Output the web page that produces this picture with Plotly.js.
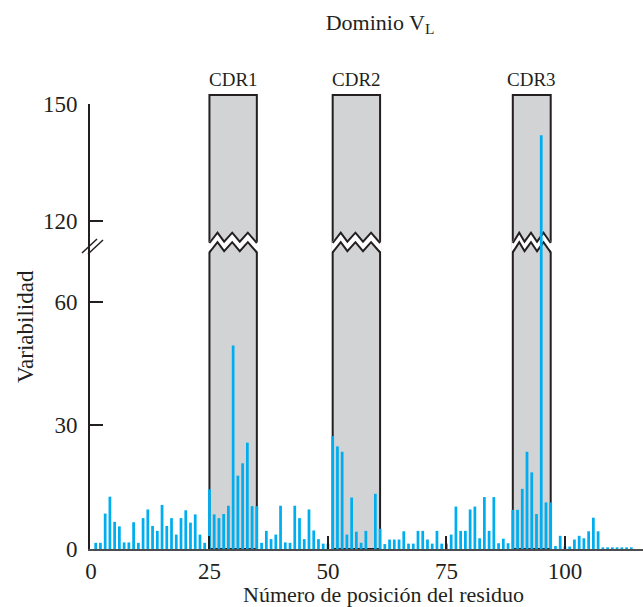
<!DOCTYPE html>
<html><head><meta charset="utf-8">
<script src="https://cdn.plot.ly/plotly-3.0.1.min.js"></script>
<style>html,body{margin:0;padding:0;background:#fff}#chart{width:643px;height:607px}</style>
</head><body><div id="chart"></div>
<script>
// Residue positions (V_L domain)
const residuePositions = [1,2,3,4,5,6,7,8,9,10,11,12,13,14,15,16,17,18,19,20,
 21,22,23,24,25,26,27,28,29,30,31,32,33,34,35,36,37,38,39,40,
 41,42,43,44,45,46,47,48,49,50,51,52,53,54,55,56,57,58,59,60,
 61,62,63,64,65,66,67,68,69,70,71,72,73,74,75,76,77,78,79,80,
 81,82,83,84,85,86,87,88,89,90,91,92,93,94,95,96,97,98,99,100,
 101,102,103,104,105,106,107,108,109,110,111,112,113,114];
// Variability (Wu-Kabat)
const variability = [1.5,1.5,8.6,12.7,6.6,5.5,1.6,1.6,6.5,1.5,
 7.5,9.6,5.6,4.4,10.7,5.6,7.5,3.5,7.5,9.4,
 6.4,8.4,3.5,1.5,14.5,8.4,7.5,8.5,10.5,49.4,
 17.8,20.8,25.8,10.4,10.4,1.5,4.4,2.4,3.5,10.5,
 1.6,1.5,10.5,7.5,2.4,9.6,4.5,2.4,1.3,1.3,
 27.4,24.9,23.6,3.5,12.5,4.2,1.5,4.4,0,13.4,
 4.9,1.2,2.3,2.3,2.3,4.3,1.3,1.3,4.4,4.4,
 2.3,1.3,4.4,1.3,1.3,3.5,10.3,4.4,4.4,9.6,
 10.3,2.6,12.6,4.4,12.6,1.4,2.5,1.4,9.5,9.5,
 14.6,23.6,18.6,8.5,142,11.3,11.3,0.7,3.2,0.6,
 0.6,2.3,3.2,2.6,4.3,7.6,4.3,0.4,0.4,0.4,
 0.4,0.4,0.4,0.4];
// CDR regions
const cdrLabels = ['CDR1','CDR2','CDR3'];
const cdrStart = [25, 51, 89];
const cdrEnd = [35, 61, 97];
// Axis ticks
const xTicks = [0, 25, 50, 75, 100];
const yTicksLow = [0, 30, 60];
const yTicksHigh = [120, 150];

const W = 643, H = 607;
const mL = 90, mR = 0, mT = 104, mB = 58;
const plotH = H - mT - mB;        // 445
const breakPx = 243;              // pixel row of the axis break
const baseline = H - mB;          // 549
const breakFrac = (baseline - breakPx) / plotH;
const py = p => (baseline - p) / plotH;       // pixel row -> paper y
const px = p => (p - mL) / (W - mL - mR);     // pixel col -> paper x

const barColor = '#00aeef';
const ink = '#231f20';
const serif = "'Liberation Serif', 'DejaVu Serif', serif";

const common = {type:'bar', x: residuePositions, y: variability, width: 0.58,
  marker:{color: barColor, line:{width:0}}, showlegend:false, hoverinfo:'x+y'};
const traces = [
  Object.assign({}, common, {xaxis:'x', yaxis:'y'}),
  Object.assign({}, common, {xaxis:'x', yaxis:'y2'})
];

const shapes = [];
const annotations = [];
// zigzag profile across a box: fraction of width, pixel offset from break (negative = up)
const zzF = [0, 0.17, 0.31, 0.48, 0.64, 0.81, 1.0];
const zzD = [0, -10.3, -1.3, -10.3, -1.3, -10.3, 0];
const gap = 9.5;
cdrLabels.forEach((lab, i) => {
  const x0 = cdrStart[i], x1 = cdrEnd[i];
  shapes.push({type:'rect', xref:'x', yref:'paper', x0: x0, x1: x1, y0: 0, y1: py(95),
    fillcolor:'#d1d3d4', line:{color: ink, width: 2}, layer:'below'});
  const pad = 0.3;
  const up = zzF.map((f, k) => [x0 - pad + f * (x1 - x0 + 2*pad), py(breakPx + zzD[k])]);
  const lo = zzF.map((f, k) => [x0 - pad + f * (x1 - x0 + 2*pad), py(breakPx + zzD[k] + gap)]);
  let band = 'M' + up.map(p => p[0] + ',' + p[1]).join(' L') + ' L' + lo.slice().reverse().map(p => p[0] + ',' + p[1]).join(' L') + ' Z';
  shapes.push({type:'path', xref:'x', yref:'paper', path: band, fillcolor:'#ffffff', line:{width:0}, layer:'below'});
  const upIn = zzF.map((f, k) => [x0 + f * (x1 - x0), py(breakPx + zzD[k])]);
  const loIn = zzF.map((f, k) => [x0 + f * (x1 - x0), py(breakPx + zzD[k] + gap)]);
  shapes.push({type:'path', xref:'x', yref:'paper', path: 'M' + upIn.map(p => p[0] + ',' + p[1]).join(' L'), line:{color: ink, width: 2}, layer:'below'});
  shapes.push({type:'path', xref:'x', yref:'paper', path: 'M' + loIn.map(p => p[0] + ',' + p[1]).join(' L'), line:{color: ink, width: 2}, layer:'below'});
  annotations.push({text: lab, xref:'x', yref:'paper', x: (x0 + x1) / 2, y: py(79), showarrow:false,
    xanchor:'center', yanchor:'middle', font:{family: serif, size: 19, color: ink}});
});
// "//" break marks on the y axis
shapes.push({type:'line', xref:'paper', yref:'paper', x0: px(82), y0: py(253), x1: px(97), y1: py(239), line:{color: ink, width: 1.5}, layer:'above'});
shapes.push({type:'line', xref:'paper', yref:'paper', x0: px(88), y0: py(254), x1: px(103), y1: py(240), line:{color: ink, width: 1.5}, layer:'above'});

annotations.push({text:'Número de posición del residuo', xref:'paper', yref:'paper', x: px(384), y: py(594),
  showarrow:false, xanchor:'center', yanchor:'middle', font:{family: serif, size: 22, color: ink}});
annotations.push({text:'Variabilidad', xref:'paper', yref:'paper', x: px(25), y: py(327), textangle:-90,
  showarrow:false, xanchor:'center', yanchor:'middle', font:{family: serif, size: 23, color: ink}});

const pxPerUnitLow = 4.12, pxPerUnitHigh = 3.9;
const lowTop = (baseline - breakPx) / pxPerUnitLow;
const highBottom = 150 - (breakPx - mT) / pxPerUnitHigh;

const yCommon = {showline:true, linecolor: ink, linewidth: 2, ticks:'inside', ticklen: 13, tickwidth: 2,
  tickcolor: ink, showgrid:false, zeroline:false, ticklabelstandoff: 6,
  tickfont:{family: serif, size: 23, color: ink}, fixedrange:true};

const layout = {
  width: W, height: H,
  margin:{l: mL, r: mR, t: mT, b: mB, pad: 0},
  paper_bgcolor:'#ffffff', plot_bgcolor:'rgba(0,0,0,0)',
  title:{text:'Dominio V<sub>L</sub>', xref:'container', yref:'container', x: 380 / W, y: 1 - 22 / H,
    xanchor:'center', yanchor:'middle', font:{family: serif, size: 22, color: ink}},
  bargap: 0.4,
  xaxis:{range:[-0.2, 116.47], anchor:'y', showline:true, linecolor:'#4d4d4f', linewidth: 2,
    ticks:'inside', ticklen: 13, tickwidth: 2, tickcolor: ink, tickvals: xTicks,
    showgrid:false, zeroline:false, tickfont:{family: serif, size: 23, color: ink}, fixedrange:true},
  yaxis: Object.assign({}, yCommon, {domain:[0, breakFrac], range:[0, lowTop], tickvals: yTicksLow, anchor:'x'}),
  yaxis2: Object.assign({}, yCommon, {domain:[breakFrac, 1], range:[highBottom, 150], tickvals: yTicksHigh, anchor:'x'}),
  shapes: shapes,
  annotations: annotations
};
Plotly.newPlot('chart', traces, layout, {displayModeBar:false, staticPlot:true});
</script></body></html>
